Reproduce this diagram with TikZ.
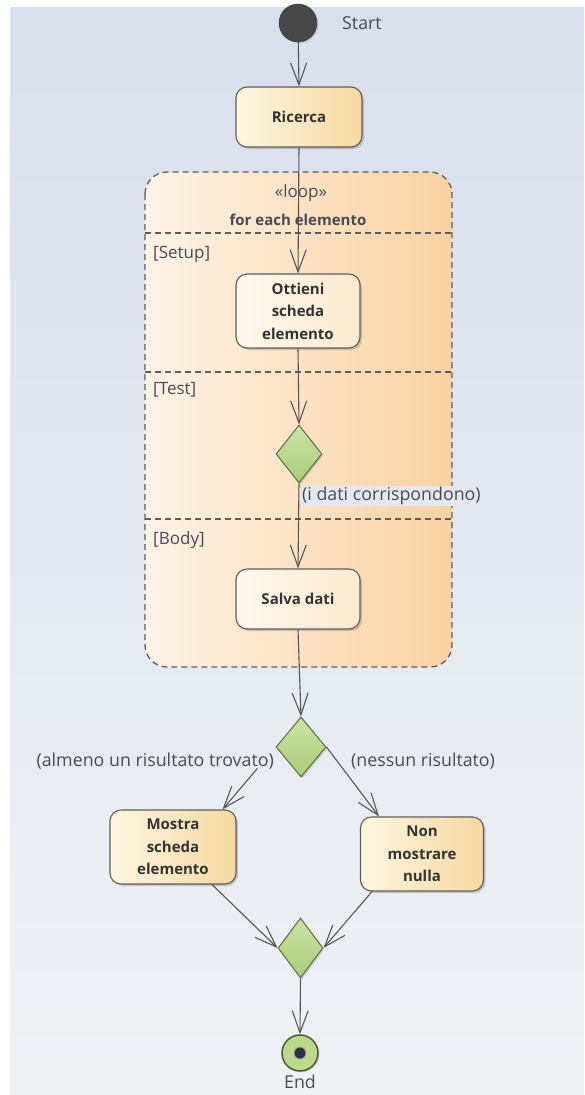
\documentclass[tikz,border=0pt]{standalone}
\usepackage{fontspec}
\setmainfont{Open Sans}
\usetikzlibrary{shapes.geometric,arrows.meta,shadows,calc}
\definecolor{bgtop}{HTML}{D9DFEC}
\definecolor{bgbot}{HTML}{EFF2F5}
\definecolor{actL}{HTML}{FEF6E2}
\definecolor{actR}{HTML}{F6D9A0}
\definecolor{paleL}{HTML}{FEF8EE}
\definecolor{paleR}{HTML}{FCEAD0}
\definecolor{loopL}{HTML}{FDF3E6}
\definecolor{loopR}{HTML}{FAD2A2}
\definecolor{border}{HTML}{5E5E58}
\definecolor{txt}{HTML}{333333}
\definecolor{lbl}{HTML}{4A4A55}
\definecolor{linec}{HTML}{555555}
\definecolor{decT}{HTML}{CDE3A6}
\definecolor{decB}{HTML}{A9CD78}
\definecolor{decborder}{HTML}{5C6C40}
\definecolor{endfill}{HTML}{BCD98C}
\definecolor{endborder}{HTML}{4B5B34}
\definecolor{enddot}{HTML}{2F3142}
\definecolor{startfill}{HTML}{474747}
\definecolor{guardbg}{HTML}{E6E8F0}
\begin{document}
\begin{tikzpicture}[x=1pt,y=-1pt,
  act/.style={draw=border, line width=1.1pt, rounded corners=11pt, align=center,
    font=\bfseries\fontsize{15}{22.5}\selectfont, text=txt, inner sep=2pt,
    drop shadow={shadow xshift=2pt,shadow yshift=-2pt,opacity=0.3,fill=black!60}},
  actA/.style={act, left color=actL, right color=actR},
  actB/.style={act, left color=paleL, right color=paleR},
  dec/.style={diamond, draw=decborder, line width=1pt, inner sep=0pt,
    top color=decT, bottom color=decB,
    drop shadow={shadow xshift=1.5pt,shadow yshift=-1.5pt,opacity=0.25,fill=black!60}},
  flow/.style={draw=linec, line width=1.1pt, -{Straight Barb[length=22pt,width=16pt,line width=1.1pt]}},
  lab/.style={font=\fontsize{17.8}{21}\selectfont, text=lbl, inner sep=1pt},
  looplab/.style={font=\fontsize{17}{20}\selectfont, text=lbl, inner sep=1pt},
  sep/.style={draw=border, line width=1.2pt, dash pattern=on 6pt off 4pt}
]
\useasboundingbox (0,0) rectangle (584,1095);
\fill[white] (0,0) rectangle (584,1095);
\fill[top color=bgtop, bottom color=bgbot] (10,7) rectangle (584,1095);

% loop frame
\draw[left color=loopL, right color=loopR, draw=border, line width=1.3pt,
      dash pattern=on 6pt off 4pt, rounded corners=22pt] (145,172) rectangle (452,667);
\draw[sep] (145,233) -- (452,233);
\draw[sep] (145,372) -- (452,372);
\draw[sep] (145,519) -- (452,519);
\node[looplab] (loopst) at (301,193) {«loop»};
\node[looplab, font=\bfseries\fontsize{15}{18}\selectfont] (loopfor) at (298,220) {for each elemento};
\node[looplab, anchor=west] (setup) at (152,254) {[Setup]};
\node[looplab, anchor=west] (test) at (152,390) {[Test]};
\node[looplab, anchor=west] (body) at (152,540) {[Body]};

% nodes
\node[circle, fill=startfill, draw=black!80, minimum size=38pt, inner sep=0pt,
      drop shadow={shadow xshift=1.5pt,shadow yshift=-1.5pt,opacity=0.25}] (start) at (298,23) {};
\node[lab, anchor=west] (startlab) at (341,23) {Start};

\node[actA, minimum width=126pt, minimum height=60pt] (ricerca) at (299,117) {Ricerca};
\node[actB, minimum width=124pt, minimum height=74pt] (ottieni) at (298,311) {Ottieni\\scheda\\elemento};
\node[dec, minimum width=46pt, minimum height=58pt] (d1) at (299,454) {};
\node[lab, anchor=west, fill=guardbg] (guard1) at (301,496) {(i dati corrispondono)};
\node[actB, minimum width=124pt, minimum height=60pt] (salva) at (298,599) {Salva dati};

\node[dec, minimum width=50pt, minimum height=60pt] (d2) at (301,747) {};
\node[lab, anchor=east] (g2) at (275,761) {(almeno un risultato trovato)};
\node[lab, anchor=west] (g3) at (350,761) {(nessun risultato)};

\node[actA, minimum width=126pt, minimum height=74pt] (mostra) at (173,847) {Mostra\\scheda\\elemento};
\node[actA, minimum width=123pt, minimum height=74pt] (non) at (422,854) {Non\\mostrare\\nulla};

\node[dec, minimum width=45pt, minimum height=60pt] (d3) at (300.5,948) {};

\node[circle, fill=endfill, draw=endborder, line width=1.5pt, minimum size=36pt, inner sep=0pt,
      drop shadow={shadow xshift=1.5pt,shadow yshift=-1.5pt,opacity=0.25}] (finalnode) at (300,1053) {};
\node[circle, fill=enddot, draw=gray!70, line width=0.8pt, minimum size=12pt, inner sep=0pt] (finaldot) at (300,1053) {};
\node[lab] (endlab) at (300,1082) {End};

% connectors
\draw[flow] (start) -- (ricerca.north);
\draw[flow] (ricerca.south) -- (ottieni.north);
\draw[flow] (ottieni.south) -- (d1.north);
\draw[flow] (d1.south) -- (salva.north);
\draw[flow] (salva.south) -- (d2.north);
\coordinate (mostraIn) at ($(mostra.north east)+(-14,0)$);
\coordinate (nonIn) at ($(non.north west)+(19,0)$);
\draw[flow, shorten <=28pt] (d2.west) -- (mostraIn);
\draw[flow] (d2.east) -- (nonIn);
\coordinate (mostraOut) at ($(mostra.south)+(39,0)$);
\coordinate (nonOut) at ($(non.south)+(-50,0)$);
\draw[flow] (mostraOut) -- (d3.west);
\draw[flow] (nonOut) -- (d3.east);
\draw[flow] (d3.south) -- (finalnode.north);
\end{tikzpicture}
\end{document}
